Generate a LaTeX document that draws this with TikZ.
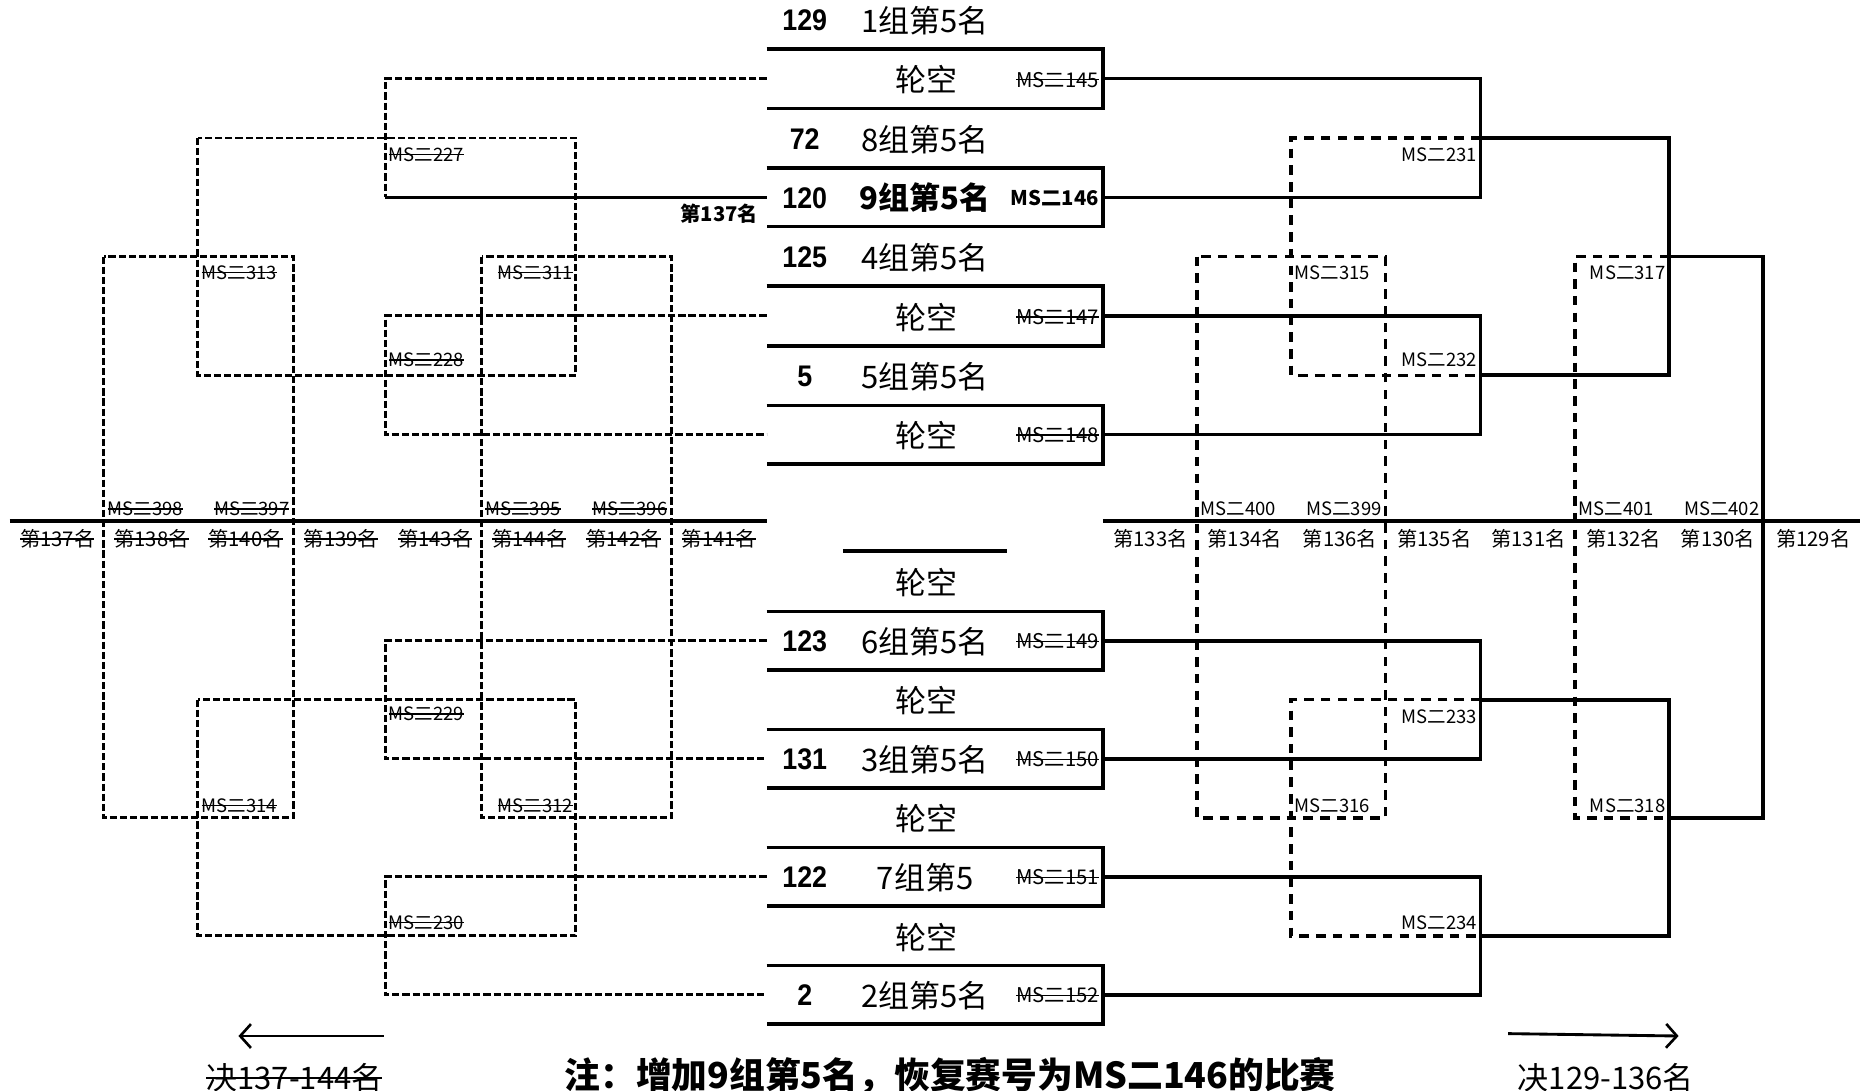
\documentclass[tikz,border=0pt]{standalone}
\usepackage{fontspec}
\setmainfont{Noto Sans CJK SC}
\newfontfamily\numfont[FakeStretch=0.9]{Liberation Sans}
\usetikzlibrary{arrows.meta}
\newsavebox\strikebox
\newcommand\mystrike[1]{\sbox\strikebox{#1}\rlap{\usebox\strikebox}\rule[0.34em]{\wd\strikebox}{0.065em}}
\begin{document}
\begin{tikzpicture}[x=1pt,y=-1pt,
  solidline/.style={line width=3pt},
  ldash/.style={line width=2.4pt,dash pattern=on 6pt off 2.5pt},
  rdash/.style={line width=2.8pt,dash pattern=on 8pt off 6pt},
  numtxt/.style={font=\numfont\bfseries\fontsize{25}{28}\selectfont,inner sep=0pt},
  bigtxt/.style={font=\fontsize{26}{29}\selectfont,inner sep=0pt},
  boxlab/.style={font=\fontsize{17}{19}\selectfont,inner sep=0pt,anchor=east},
  mslab/.style={font=\fontsize{15.5}{17}\selectfont,inner sep=0pt},
  ranklab/.style={font=\fontsize{17}{19}\selectfont,inner sep=0pt},
  arrowline/.style={line width=2.4pt,-{Straight Barb[length=9pt,width=20pt,line width=2.2pt]}},
]
\useasboundingbox (0,0) rectangle (1561,914.3);

% ---------- central boxes ----------
\foreach \n/\t/\b in {1/41/91, 2/141/190, 3/240/290, 4/340/389, 5/513/562, 6/612/661, 7/711/760, 8/810/859}{
  \coordinate (tl\n) at (643,\t); \coordinate (tr\n) at (925,\t);
  \coordinate (bl\n) at (643,\b); \coordinate (br\n) at (925,\b);
  \coordinate (ml\n) at (643,{(\t+\b)/2}); \coordinate (mr\n) at (925,{(\t+\b)/2});
  \draw[solidline] (tl\n) -- (tr\n) -- (br\n) -- (bl\n);
}
\coordinate (sh1) at (707,462); \coordinate (sh2) at (845,462);
\draw[solidline] (sh1) -- (sh2);

% texts upper
\node[numtxt] (n1) at (675,17) {129};  \node[bigtxt] (t1) at (776,17) {1组第5名};
\node[bigtxt] (t2) at (777,67) {轮空};  \node[boxlab] (l145) at (922,67) {\mystrike{MS二145}};
\node[numtxt] (n3) at (675,117) {72};  \node[bigtxt] (t3) at (776,117) {8组第5名};
\node[numtxt] (n4) at (675,166) {120}; \node[bigtxt,font=\bfseries\fontsize{26}{29}\selectfont] (t4) at (776,166) {9组第5名};
\node[boxlab,font=\bfseries\fontsize{17}{19}\selectfont] (l146) at (922,166) {MS二146};
\node[numtxt] (n5) at (675,216) {125}; \node[bigtxt] (t5) at (776,216) {4组第5名};
\node[bigtxt] (t6) at (777,266) {轮空};  \node[boxlab] (l147) at (922,266) {\mystrike{MS二147}};
\node[numtxt] (n7) at (675,316) {5};   \node[bigtxt] (t7) at (776,316) {5组第5名};
\node[bigtxt] (t8) at (777,365) {轮空};  \node[boxlab] (l148) at (922,365) {\mystrike{MS二148}};
\node[ranklab,font=\bfseries\fontsize{17}{19}\selectfont,anchor=east] (r137b) at (636,179) {第137名};

% texts lower
\node[bigtxt] (t9) at (777,489) {轮空};
\node[numtxt] (n10) at (675,538) {123}; \node[bigtxt] (t10) at (776,538) {6组第5名}; \node[boxlab] (l149) at (922,538) {\mystrike{MS二149}};
\node[bigtxt] (t11) at (777,588) {轮空};
\node[numtxt] (n12) at (675,637) {131}; \node[bigtxt] (t12) at (776,637) {3组第5名}; \node[boxlab] (l150) at (922,637) {\mystrike{MS二150}};
\node[bigtxt] (t13) at (777,687) {轮空};
\node[numtxt] (n14) at (675,736) {122}; \node[bigtxt] (t14) at (776,736) {7组第5}; \node[boxlab] (l151) at (922,736) {\mystrike{MS二151}};
\node[bigtxt] (t15) at (777,786) {轮空};
\node[numtxt] (n16) at (675,835) {2}; \node[bigtxt] (t16) at (776,835) {2组第5名}; \node[boxlab] (l152) at (922,835) {\mystrike{MS二152}};

% ---------- dividers ----------
\coordinate (dl1) at (8,437); \coordinate (dl2) at (643,437);
\coordinate (dr1) at (925,437); \coordinate (dr2) at (1560,437);
\draw[solidline] (dl1) -- (dl2);
\draw[solidline] (dr1) -- (dr2);

% ---------- right (winners) ----------
\coordinate (X2) at (1242,0); \coordinate (X3) at (1400,0); \coordinate (X4) at (1479,0);
\coordinate (D1) at (1083,0); \coordinate (D2) at (1004,0); \coordinate (D3) at (1162,0); \coordinate (D4) at (1321,0);
\coordinate (w231) at (1242,115.75); \coordinate (w232) at (1242,314.75);
\coordinate (w233) at (1242,587);    \coordinate (w234) at (1242,785);
\coordinate (w317) at (1400,215.25); \coordinate (w318) at (1400,686);

\draw[solidline] (mr1) -- (mr1 -| X2) -- (mr2 -| X2) -- (mr2);
\draw[solidline] (mr3) -- (mr3 -| X2) -- (mr4 -| X2) -- (mr4);
\draw[solidline] (mr5) -- (mr5 -| X2) -- (mr6 -| X2) -- (mr6);
\draw[solidline] (mr7) -- (mr7 -| X2) -- (mr8 -| X2) -- (mr8);
\draw[solidline] (w231) -- (w231 -| X3) -- (w232 -| X3) -- (w232);
\draw[solidline] (w233) -- (w233 -| X3) -- (w234 -| X3) -- (w234);
\draw[solidline] (w317) -- (w317 -| X4) -- (w318 -| X4) -- (w318);

\draw[rdash] (w231) -- (w231 -| D1) -- (w232 -| D1) -- (w232);
\draw[rdash] (w233) -- (w233 -| D1) -- (w234 -| D1) -- (w234);
\draw[rdash] (w317 -| D2) rectangle (w318 -| D3);
\draw[rdash] (w317) -- (w317 -| D4) -- (w318 -| D4) -- (w318);

\node[mslab,anchor=east] (m231) at (1239,130) {MS二231};
\node[mslab,anchor=east] (m232) at (1239,302) {MS二232};
\node[mslab,anchor=east] (m233) at (1239,601) {MS二233};
\node[mslab,anchor=east] (m234) at (1239,774) {MS二234};
\node[mslab,anchor=west] (m315) at (1086,229) {MS二315};
\node[mslab,anchor=west] (m316) at (1086,676) {MS二316};
\node[mslab,anchor=east] (m317) at (1397,229) {MS二317};
\node[mslab,anchor=east] (m318) at (1397,676) {MS二318};
\node[mslab,anchor=west] (m400) at (1007,427) {MS二400};
\node[mslab,anchor=east] (m399) at (1159,427) {MS二399};
\node[mslab,anchor=west] (m401) at (1324,427) {MS二401};
\node[mslab,anchor=east] (m402) at (1476,427) {MS二402};

\foreach \x/\r in {965/133, 1044/134, 1124/136, 1203/135, 1282/131, 1362/132, 1441/130, 1521/129}{
  \node[ranklab] (rk\r) at (\x,452) {第\r 名};
}

% ---------- left (consolation, cancelled) ----------
\coordinate (L1) at (323,0);
\draw[ldash] (ml1) -- (ml1 -| L1) -- (ml2 -| L1);
\draw[solidline] (ml2 -| L1) -- (ml2);
\draw[ldash] (ml3) -- (ml3 -| L1) -- (ml4 -| L1) -- (ml4);
\draw[ldash] (ml5) -- (ml5 -| L1) -- (ml6 -| L1) -- (ml6);
\draw[ldash] (ml7) -- (ml7 -| L1) -- (ml8 -| L1) -- (ml8);
\coordinate (ra1) at (166,115.75); \coordinate (ra2) at (483,314.75);
\coordinate (rd1) at (166,587);    \coordinate (rd2) at (483,785);
\coordinate (rb1) at (87,215.25);  \coordinate (rb2) at (246,686);
\coordinate (rc1) at (404,215.25); \coordinate (rc2) at (563,686);
\draw[ldash] (ra1) rectangle (ra2);
\draw[ldash] (rd1) rectangle (rd2);
\draw[ldash] (rb1) rectangle (rb2);
\draw[ldash] (rc1) rectangle (rc2);

\node[mslab,anchor=west] (m227) at (326,130) {\mystrike{MS二227}};
\node[mslab,anchor=west] (m228) at (326,302) {\mystrike{MS二228}};
\node[mslab,anchor=west] (m229) at (326,599) {\mystrike{MS二229}};
\node[mslab,anchor=west] (m230) at (326,774) {\mystrike{MS二230}};
\node[mslab,anchor=west] (m313) at (169,229) {\mystrike{MS二313}};
\node[mslab,anchor=west] (m314) at (169,676) {\mystrike{MS二314}};
\node[mslab,anchor=east] (m311) at (481,229) {\mystrike{MS二311}};
\node[mslab,anchor=east] (m312) at (481,676) {\mystrike{MS二312}};
\node[mslab,anchor=west] (m398) at (90,427) {\mystrike{MS二398}};
\node[mslab,anchor=east] (m397) at (243,427) {\mystrike{MS二397}};
\node[mslab,anchor=west] (m395) at (407,427) {\mystrike{MS二395}};
\node[mslab,anchor=east] (m396) at (560,427) {\mystrike{MS二396}};

\foreach \x/\r in {48/137, 127/138, 206/140, 286/139, 365/143, 444/144, 523/142, 603/141}{
  \node[ranklab] (rk\r) at (\x,452) {\mystrike{第\r 名}};
}

% ---------- bottom ----------
\coordinate (arLs) at (322,869); \coordinate (arLe) at (200,869);
\coordinate (arRs) at (1265,867); \coordinate (arRe) at (1408,869);
\draw[arrowline] (arLs) -- (arLe);
\draw[arrowline] (arRs) -- (arRe);
\node[font=\fontsize{26}{29}\selectfont,inner sep=0pt] (fl) at (247,904) {\mystrike{决137-144名}};
\node[font=\fontsize{26}{29}\selectfont,inner sep=0pt] (fr) at (1347,904) {决129-136名};
\node[font=\bfseries\fontsize{30}{33}\selectfont,inner sep=0pt] (note) at (797,902) {注：增加9组第5名，恢复赛号为MS二146的比赛};
\end{tikzpicture}
\end{document}
